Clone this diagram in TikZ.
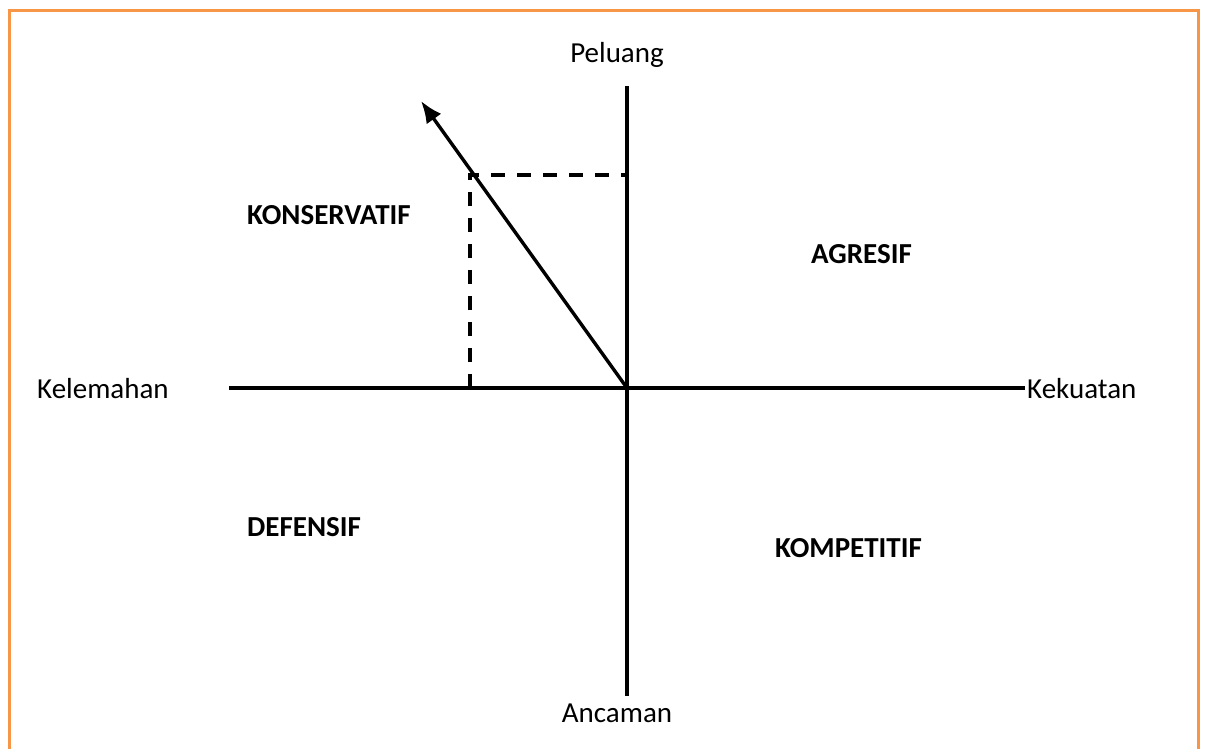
\documentclass[tikz,border=0pt]{standalone}
\usepackage{fontspec}
\setmainfont{Carlito}
\usetikzlibrary{arrows.meta}
\definecolor{frameorange}{RGB}{247,150,70}
\begin{document}
\begin{tikzpicture}[x=1pt,y=-1pt,
  axis/.style={line width=3.4pt},
  dashline/.style={line width=3.4pt,dash pattern=on 14pt off 12pt},
  lbl/.style={inner sep=0pt,font=\fontsize{29}{34}\selectfont},
  quad/.style={inner sep=0pt,font=\fontsize{29}{34}\selectfont\bfseries}]
\useasboundingbox (0,0) rectangle (1205,748);
\begin{scope}
\clip (0,0) rectangle (1205,748);
\draw[frameorange,line width=3.5pt] (9.5,760) -- (9.5,10.5) -- (1198.5,10.5) -- (1198.5,760);
\end{scope}
\coordinate (O) at (627,388);
\coordinate (L) at (229,388);
\coordinate (R) at (1025,388);
\coordinate (T) at (627,86);
\coordinate (B) at (627,696);
\coordinate (A) at (421,101);
\coordinate (C) at (470,175);
\coordinate (CT) at (627,175);
\coordinate (CB) at (470,388);
\draw[axis] (L) -- (R);
\draw[axis] (T) -- (B);
\draw[dashline] (CB) -- (C) -- (CT);
\draw[axis,-{Latex[length=22pt,width=18pt]}] (O) -- (A);
\node[lbl] (peluang) at (617,55) {Peluang};
\node[lbl] (ancaman) at (617,713) {Ancaman};
\node[lbl,anchor=west] (kelemahan) at (37,389) {Kelemahan};
\node[lbl,anchor=west] (kekuatan) at (1027,389) {Kekuatan};
\node[quad,anchor=west] (kons) at (247,215) {KONSERVATIF};
\node[quad,anchor=west] (agr) at (811,254) {AGRESIF};
\node[quad,anchor=west] (def) at (247,527) {DEFENSIF};
\node[quad,anchor=west] (komp) at (775,548) {KOMPETITIF};
\end{tikzpicture}
\end{document}
